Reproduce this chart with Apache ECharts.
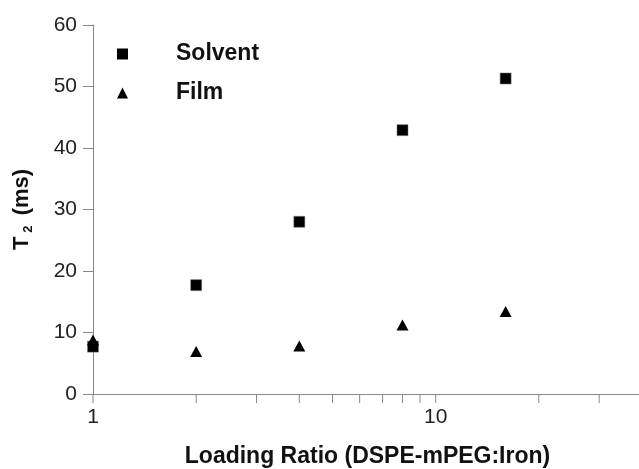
<!DOCTYPE html>
<html>
<head>
<meta charset="utf-8">
<script src="https://cdn.jsdelivr.net/npm/echarts@6/dist/echarts.min.js"></script>
<style>html,body{margin:0;padding:0;background:#fff;}#c{width:639px;height:469px;}</style>
</head>
<body>
<div id="c"></div>
<script>
var loadingRatio = [1, 2, 4, 8, 16];
var solventT2 = [7.7, 17.7, 28.0, 42.9, 51.3];
var filmT2 = [8.8, 6.9, 7.8, 11.2, 13.4];
var xTickValues = [1, 2, 3, 4, 5, 6, 7, 8, 9, 10, 20, 30];
var xTickLabels = [1, 10];
var yTicks = [0, 10, 20, 30, 40, 50, 60];

var chart = echarts.init(document.getElementById('c'));
var font = '"Liberation Sans", Arial, sans-serif';
chart.setOption({
  animation: false,
  backgroundColor: '#fff',
  grid: { left: 93, top: 25, width: 549, height: 369, outerBoundsMode: 'none', containLabel: false },
  legend: {
    data: [{name: 'Solvent', icon: 'rect'}, {name: 'Film', icon: 'triangle'}],
    orient: 'vertical',
    left: 112,
    top: 36,
    itemWidth: 11,
    itemHeight: 11,
    itemGap: 13,
    itemStyle: { opacity: 1, borderWidth: 0 },
    textStyle: { fontFamily: font, fontSize: 23, fontWeight: 'bold', color: '#111', lineHeight: 26, padding: [0, 0, 0, 43] }
  },
  xAxis: {
    type: 'log', logBase: 10, min: 1, max: 40,
    name: 'Loading Ratio (DSPE-mPEG:Iron)',
    nameLocation: 'middle', nameGap: 51,
    nameTextStyle: { fontFamily: font, fontSize: 23, fontWeight: 'bold', color: '#111' },
    axisLine: { lineStyle: { color: '#888', width: 1 } },
    axisTick: { show: false },
    splitLine: { show: false },
    axisLabel: {
      fontFamily: font, fontSize: 21, color: '#222', margin: 13,
      formatter: function (v) { return xTickLabels.indexOf(Math.round(v)) >= 0 ? String(Math.round(v)) : ''; }
    }
  },
  yAxis: {
    type: 'value', min: yTicks[0], max: yTicks[yTicks.length - 1], interval: 10,
    name: '{a|T}{s|2}{a| (ms)}',
    nameLocation: 'middle', nameGap: 58, nameRotate: 90,
    nameTextStyle: {
      rich: {
        a: { fontFamily: font, fontSize: 22, fontWeight: 'bold', color: '#111', lineHeight: 26 },
        s: { fontFamily: font, fontSize: 13, fontWeight: 'bold', color: '#111', lineHeight: 26, verticalAlign: 'bottom', padding: [0, 4, 0, 4] }
      }
    },
    axisLine: { show: true, lineStyle: { color: '#888', width: 1 } },
    axisTick: { show: true, length: 10, lineStyle: { color: '#888' } },
    splitLine: { show: false },
    axisLabel: { fontFamily: font, fontSize: 21, color: '#222', margin: 16 }
  },
  series: [
    {
      name: 'Solvent', type: 'scatter', symbol: 'rect', symbolSize: 11,
      itemStyle: { color: '#000', opacity: 1, borderColor: '#777', borderWidth: 0.5 },
      data: loadingRatio.map(function (x, i) { return [x, solventT2[i]]; }),
      z: 3
    },
    {
      name: 'Film', type: 'scatter', symbol: 'triangle', symbolSize: [12, 11],
      itemStyle: { color: '#000', opacity: 1 },
      data: loadingRatio.map(function (x, i) { return [x, filmT2[i]]; }),
      z: 4
    },
    {
      name: 'ticks', type: 'custom', silent: true, clip: false,
      data: xTickValues.map(function (v) { return [v, 0]; }),
      renderItem: function (params, api) {
        var p = api.coord([api.value(0), 0]);
        return { type: 'line', shape: { x1: p[0], y1: p[1], x2: p[0], y2: p[1] + 9 }, style: { stroke: '#888', lineWidth: 1 } };
      },
      z: 1
    }
  ]
});
</script>
</body>
</html>
